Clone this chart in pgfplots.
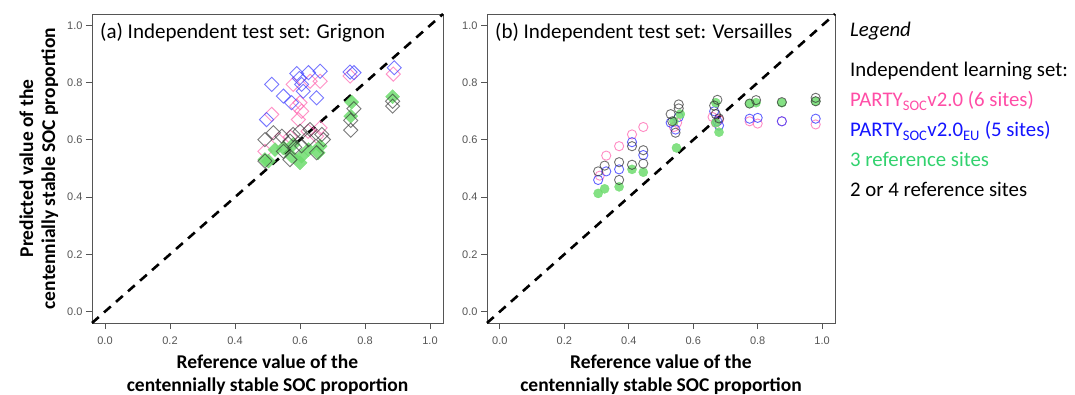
\documentclass[border=0pt]{standalone}
\usepackage{pgfplots}
\pgfplotsset{compat=1.18}
\usepackage{fontspec}
\setmainfont{Carlito}
\newfontfamily\tickfont{Liberation Sans}
\definecolor{pinkc}{RGB}{255,77,166}
\definecolor{pinkm}{RGB}{255,110,180}
\definecolor{bluec}{RGB}{20,20,255}
\definecolor{bluem}{RGB}{60,60,255}
\definecolor{greenc}{RGB}{50,210,110}
\definecolor{greenm}{RGB}{110,220,110}
\definecolor{axisgray}{RGB}{85,85,85}
\pgfplotsset{
  panel/.style={
    scale only axis, width=351bp, height=309bp,
    xmin=-0.04, xmax=1.04, ymin=-0.04, ymax=1.04,
    xtick={0,0.2,0.4,0.6,0.8,1}, ytick={0,0.2,0.4,0.6,0.8,1},
    tick pos=left, tick align=outside, major tick length=6bp,
    axis line style={axisgray, line width=0.8bp},
    tick style={axisgray, line width=0.8bp},
    ticklabel style={font=\tickfont\fontsize{11bp}{13bp}\selectfont, text=axisgray},
    xticklabel style={yshift=-4bp},
    /pgf/number format/.cd, fixed, fixed zerofill, precision=1, assume math mode=true,
    /pgfplots/.cd,
    xlabel style={at={(axis description cs:0.5,-0.090)}, anchor=north, align=center,
      font=\bfseries\fontsize{19.5bp}{23bp}\selectfont},
    ylabel style={at={(axis description cs:-0.2165,0.5)}, anchor=north, align=center, rotate=0,
      font=\bfseries\fontsize{19.5bp}{22bp}\selectfont},
    clip=false,
  },
  dia/.style={only marks, mark=square, mark size=5bp, mark options={rotate=45}},
  diaf/.style={only marks, mark=square*, mark size=5bp, mark options={rotate=45}},
  circ/.style={only marks, mark=o, mark size=4.6bp},
}
\begin{document}
\begin{tikzpicture}
% ---------------- (a) Grignon ----------------
\begin{axis}[panel, at={(92bp,72bp)}, anchor=south west,
  xlabel={Reference value of the\\centennially stable SOC proportion},
  ylabel={Predicted value of the\\centennially stable SOC proportion}]
\addplot[pinkm, dia, line width=0.9bp, opacity=0.75] coordinates {
(0.492,0.56) (0.513,0.689) (0.533,0.60) (0.579,0.794) (0.59,0.718) (0.605,0.70)
(0.595,0.671) (0.60,0.73) (0.631,0.805) (0.662,0.805) (0.651,0.613) (0.662,0.642)
(0.57,0.61) (0.625,0.63) (0.754,0.823) (0.887,0.830)};
\addplot[bluem, dia, line width=0.9bp, opacity=0.7] coordinates {
(0.497,0.671) (0.513,0.794) (0.549,0.753) (0.574,0.73) (0.59,0.832) (0.605,0.794)
(0.598,0.815) (0.61,0.77) (0.626,0.835) (0.651,0.747) (0.662,0.84) (0.754,0.837)
(0.766,0.835) (0.89,0.852)};
\addplot[greenm, diaf, line width=0.3bp, opacity=0.85] coordinates {
(0.492,0.531) (0.503,0.526) (0.523,0.566) (0.549,0.572) (0.574,0.543) (0.579,0.584)
(0.60,0.52) (0.605,0.543) (0.626,0.566) (0.656,0.555) (0.662,0.578) (0.759,0.732)
(0.756,0.683) (0.885,0.751)};
\addplot[black!80, dia, line width=0.9bp, opacity=0.65] coordinates {
(0.492,0.601) (0.518,0.625) (0.544,0.613) (0.569,0.596) (0.579,0.619) (0.60,0.63)
(0.626,0.601) (0.631,0.636) (0.667,0.619) (0.672,0.601) (0.549,0.56) (0.584,0.574)
(0.605,0.579) (0.651,0.555) (0.492,0.526) (0.569,0.531) (0.756,0.634) (0.756,0.668)
(0.766,0.709) (0.885,0.735) (0.885,0.718)};
\addplot[black, line width=2.6bp, dash pattern=on 9bp off 7bp] coordinates {(-0.04,-0.04) (1.04,1.04)};
\node[anchor=base west, inner sep=0, font=\fontsize{21bp}{24bp}\selectfont]
  at (rel axis cs:0,1) [xshift=8bp, yshift=-25bp] {(a) Independent test set: Grignon};
\end{axis}
% ---------------- (b) Versailles ----------------
\begin{axis}[panel, at={(487bp,72bp)}, anchor=south west, width=348bp,
  xlabel={Reference value of the\\centennially stable SOC proportion}]
\addplot[pinkm, circ, line width=0.9bp, opacity=0.8] coordinates {
(0.31,0.475) (0.33,0.545) (0.37,0.578) (0.41,0.619) (0.445,0.645) (0.54,0.645)
(0.55,0.66) (0.66,0.68) (0.67,0.66) (0.68,0.67) (0.775,0.665) (0.80,0.657)
(0.875,0.665) (0.98,0.654)};
\addplot[bluem, circ, line width=0.9bp, opacity=0.8] coordinates {
(0.305,0.46) (0.33,0.49) (0.37,0.497) (0.41,0.592) (0.445,0.547) (0.53,0.66)
(0.545,0.636) (0.555,0.68) (0.665,0.70) (0.675,0.665) (0.68,0.65) (0.775,0.674)
(0.80,0.677) (0.875,0.665) (0.98,0.674)};
\addplot[greenm, only marks, mark=*, mark size=4.6bp, line width=0.3bp, opacity=0.85] coordinates {
(0.305,0.413) (0.325,0.429) (0.37,0.436) (0.41,0.497) (0.445,0.487) (0.548,0.572)
(0.54,0.665) (0.56,0.69) (0.67,0.73) (0.67,0.66) (0.68,0.627) (0.775,0.727)
(0.795,0.73) (0.875,0.73) (0.98,0.735)};
\addplot[black!80, circ, line width=0.9bp, opacity=0.7] coordinates {
(0.305,0.49) (0.325,0.51) (0.37,0.522) (0.37,0.46) (0.41,0.578) (0.41,0.513)
(0.445,0.564) (0.445,0.517) (0.53,0.69) (0.535,0.665) (0.545,0.625) (0.555,0.724)
(0.555,0.71) (0.665,0.72) (0.675,0.74) (0.67,0.69) (0.68,0.675) (0.775,0.727)
(0.795,0.739) (0.875,0.732) (0.98,0.747) (0.98,0.735)};
\addplot[black, line width=2.6bp, dash pattern=on 9bp off 7bp] coordinates {(-0.04,-0.04) (1.04,1.04)};
\node[anchor=base west, inner sep=0, font=\fontsize{21bp}{24bp}\selectfont]
  at (rel axis cs:0,1) [xshift=8bp, yshift=-25bp] {(b) Independent test set: Versailles};
\end{axis}
% ---------------- legend ----------------
\begin{scope}[every node/.style={anchor=base west, inner sep=0, font=\fontsize{20.8bp}{24bp}\selectfont}]
\node at (850bp,358bp) {\itshape Legend};
\node at (850bp,318bp) {Independent learning set:};
\node[text=pinkc] at (850bp,288bp) {PARTY\textsubscript{SOC}v2.0 (6 sites)};
\node[text=bluec] at (850bp,258bp) {PARTY\textsubscript{SOC}v2.0\textsubscript{EU} (5 sites)};
\node[text=greenc] at (850bp,228bp) {3 reference sites};
\node at (850bp,198bp) {2 or 4 reference sites};
\end{scope}
\pgfresetboundingbox
\path[use as bounding box] (0,0) rectangle (1075bp,395bp);
\end{tikzpicture}
\end{document}
